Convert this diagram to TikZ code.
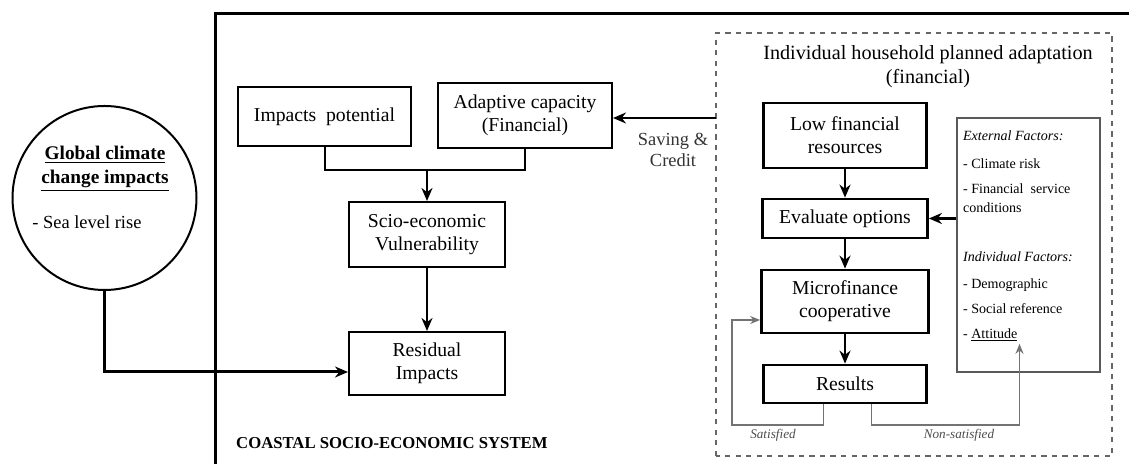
\documentclass[tikz,border=0pt]{standalone}
\usepackage{fontspec}
\setmainfont{Liberation Serif}
\usetikzlibrary{arrows.meta}

\begin{document}
\begin{tikzpicture}[
		mainbox/.style={draw, line width=0.4mm, align=center, inner sep=2pt, font=\fontsize{11.2}{13}\selectfont},
		stepbox/.style={draw, line width=0.55mm, align=center, inner sep=2pt, font=\fontsize{11.2}{13}\selectfont},
		factor/.style={anchor=west, inner sep=1pt, font=\fontsize{8}{9}\selectfont},
		arr/.style={line width=0.45mm, -{Stealth[length=2.6mm,width=2.2mm]}},
		loop/.style={line width=0.3mm, color=black!55},
		note/.style={font=\fontsize{7.5}{9}\selectfont\itshape, color=black!70}
	]
			%%%%% START %%%%%
			
			\useasboundingbox (0, 0) rectangle (22.58, 9.28);
			
			% coastal system frame
			\draw[line width=0.6mm] (4.30, 0) -- (4.30, 9.0) -- (22.58, 9.0);
			\node[anchor=west, font=\fontsize{9.5}{11}\selectfont\bfseries] (sysname) at (4.60, 0.42) {COASTAL SOCIO-ECONOMIC SYSTEM};
			
			% global impacts
			\node[draw, circle, line width=0.4mm, minimum size=3.68cm] (glob) at (2.09, 5.32) {};
			\node[font=\fontsize{11}{13}\selectfont\bfseries] (globA) at (2.10, 6.18) {\underline{Global climate}};
			\node[font=\fontsize{11}{13}\selectfont\bfseries] (globB) at (2.10, 5.66) {\underline{change impacts}};
			\node[anchor=west, inner sep=0pt, font=\fontsize{10.5}{12}\selectfont] (sea) at (0.64, 4.84) {- Sea level rise};
			
			% left chain
			\node[mainbox, minimum width=3.46cm, minimum height=1.18cm] (imp) at (6.49, 6.95) {Impacts~ potential};
			\node[mainbox, minimum width=3.48cm, minimum height=1.30cm] (adapt) at (10.50, 6.97) {Adaptive capacity\\(Financial)};
			\node[mainbox, minimum width=3.12cm, minimum height=1.30cm] (scio) at (8.54, 4.59) {Scio-economic\\Vulnerability};
			\node[mainbox, minimum width=3.12cm, minimum height=1.26cm] (resid) at (8.54, 2.01) {Residual\\Impacts};
			\coordinate (join) at (8.54, 5.88);
			
			\draw[line width=0.4mm] (imp.south) |- (join) -| (adapt.south);
			\draw[arr] (join) -- (scio.north);
			\draw[arr] (scio.south) -- (resid.north);
			\draw[arr, line width=0.6mm] (glob.south) |- ([yshift=-0.17cm]resid.west);
			
			% household adaptation
			\draw[dashed, line width=0.25mm, color=black!60] (14.32, 0.16) rectangle (22.24, 8.62);
			\node[align=center, font=\fontsize{11.5}{13.5}\selectfont] (hhtitle) at (18.56, 7.95) {Individual household planned adaptation\\(financial)};
			
			\node[stepbox, minimum width=3.26cm, minimum height=1.30cm] (low) at (16.90, 6.57) {Low financial\\resources};
			\node[stepbox, minimum width=3.30cm, minimum height=0.78cm] (eval) at (16.90, 4.91) {Evaluate options};
			\node[stepbox, minimum width=3.34cm, minimum height=1.26cm] (micro) at (16.90, 3.25) {Microfinance\\cooperative};
			\node[stepbox, minimum width=3.26cm, minimum height=0.76cm] (res) at (16.90, 1.60) {Results};
			
			\draw[arr] (low.south) -- (eval.north);
			\draw[arr] (eval.south) -- (micro.north);
			\draw[arr] (micro.south) -- (res.north);
			
			% factors
			\node[draw, line width=0.3mm, color=black!65, minimum width=2.86cm, minimum height=5.08cm] (fact) at (20.57, 4.38) {};
			\node[factor, font=\fontsize{8}{9}\selectfont\itshape] (extH) at (19.22, 6.56) {External Factors:};
			\node[factor] (ext1) at (19.22, 6.00) {- Climate risk};
			\node[factor] (ext2) at (19.22, 5.50) {- Financial~ service};
			\node[factor] (ext3) at (19.22, 5.12) {conditions};
			\node[factor, font=\fontsize{8}{9}\selectfont\itshape] (indH) at (19.22, 4.14) {Individual Factors:};
			\node[factor] (ind1) at (19.22, 3.58) {- Demographic};
			\node[factor] (ind2) at (19.22, 3.10) {- Social reference};
			\node[factor] (att) at (19.22, 2.58) {- \underline{Attitude}};
			
			\draw[arr] (fact.west |- eval.east) -- (eval.east);
			\draw[arr] (14.32, 6.92) -- (adapt.east |- 0, 6.92);
			\node[align=center, font=\fontsize{10.5}{12}\selectfont, color=black!80] (save) at (13.46, 6.28) {Saving \&\\Credit};
			
			% feedback
			\coordinate (satL) at (14.64, 0.78);
			\draw[loop, -{Stealth[length=2mm,width=1.6mm]}] ([xshift=-0.43cm]res.south) |- (satL) |- ([yshift=-0.37cm]micro.west);
			\draw[loop, -{Stealth[length=2mm,width=1.6mm]}] ([xshift=0.53cm]res.south) |- (att.south east |- satL) -- (att.south east);
			\node[note] (sat) at (15.46, 0.58) {Satisfied};
			\node[note] (nonsat) at (19.18, 0.58) {Non-satisfied};
			
			%%%%% END %%%%%
\end{tikzpicture}
\end{document}
